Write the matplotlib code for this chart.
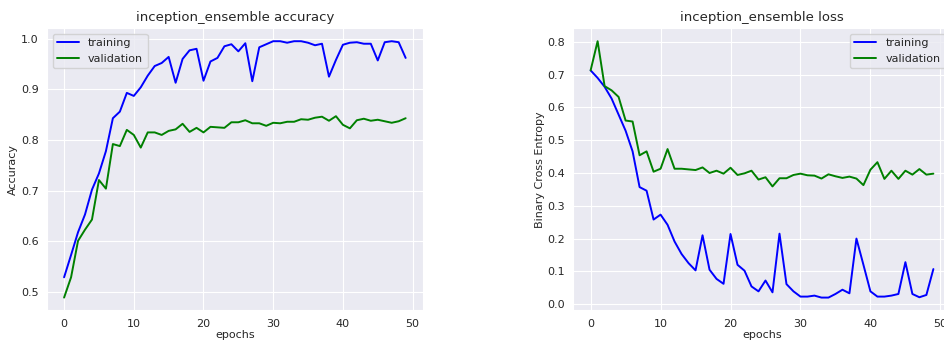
import numpy as np
import seaborn as sns
from matplotlib import pyplot as plt

sns.set_style('darkgrid')
plt.rcParams['font.family'] = ['DejaVu Sans']

# accuracy per epoch
train_acc = [0.529, 0.573, 0.618, 0.653, 0.702, 0.734, 0.778, 0.843, 0.856, 0.893,
             0.887, 0.904, 0.927, 0.946, 0.952, 0.964, 0.913, 0.960, 0.977, 0.980,
             0.917, 0.955, 0.962, 0.985, 0.989, 0.975, 0.991, 0.916, 0.983, 0.989,
             0.995, 0.995, 0.992, 0.995, 0.995, 0.992, 0.987, 0.990, 0.925, 0.958,
             0.988, 0.992, 0.993, 0.990, 0.990, 0.957, 0.993, 0.995, 0.993, 0.962]
val_acc = [0.489, 0.529, 0.601, 0.623, 0.643, 0.721, 0.704, 0.792, 0.788, 0.820,
           0.810, 0.785, 0.815, 0.815, 0.810, 0.818, 0.821, 0.832, 0.816, 0.824,
           0.815, 0.826, 0.825, 0.824, 0.835, 0.835, 0.839, 0.833, 0.833, 0.828,
           0.834, 0.833, 0.836, 0.836, 0.841, 0.840, 0.844, 0.846, 0.838, 0.847,
           0.830, 0.823, 0.839, 0.842, 0.838, 0.840, 0.837, 0.834, 0.837, 0.843]

# loss per epoch
train_loss = [0.713, 0.690, 0.663, 0.627, 0.578, 0.529, 0.466, 0.357, 0.346, 0.258,
              0.273, 0.242, 0.191, 0.153, 0.125, 0.103, 0.210, 0.105, 0.077, 0.062,
              0.214, 0.120, 0.102, 0.054, 0.039, 0.072, 0.036, 0.215, 0.061, 0.039,
              0.023, 0.023, 0.026, 0.020, 0.020, 0.031, 0.044, 0.033, 0.200, 0.120,
              0.039, 0.023, 0.023, 0.026, 0.031, 0.128, 0.031, 0.021, 0.028, 0.107]
val_loss = [0.713, 0.802, 0.665, 0.652, 0.632, 0.560, 0.557, 0.454, 0.466, 0.404,
            0.413, 0.473, 0.413, 0.413, 0.411, 0.409, 0.417, 0.400, 0.407, 0.398,
            0.416, 0.394, 0.399, 0.407, 0.380, 0.387, 0.359, 0.384, 0.384, 0.394,
            0.398, 0.393, 0.392, 0.383, 0.396, 0.390, 0.385, 0.389, 0.383, 0.363,
            0.410, 0.433, 0.382, 0.407, 0.382, 0.407, 0.395, 0.412, 0.395, 0.398]

epochs = np.arange(len(train_acc))

fig = plt.figure(figsize=(9.44, 3.42), dpi=100)
ax1 = fig.add_axes([0.0498, 0.0924, 0.398, 0.8246])
ax2 = fig.add_axes([0.6075, 0.0924, 0.3994, 0.8246])

# Accuracy plot
ax1.plot(epochs, train_acc, color='blue', lw=1.4, label='training')
ax1.plot(epochs, val_acc, color='green', lw=1.4, label='validation')
ax1.set_title('inception_ensemble accuracy', fontsize=9.5, pad=5)
ax1.set_xlabel('epochs', fontsize=8, labelpad=1)
ax1.set_ylabel('Accuracy', fontsize=8, labelpad=2)
ax1.legend(loc='upper left', fontsize=8)

# Loss plot
ax2.plot(epochs, train_loss, color='blue', lw=1.4, label='training')
ax2.plot(epochs, val_loss, color='green', lw=1.4, label='validation')
ax2.set_title('inception_ensemble loss', fontsize=9.5, pad=5)
ax2.set_xlabel('epochs', fontsize=8, labelpad=1)
ax2.set_ylabel('Binary Cross Entropy', fontsize=8, labelpad=2)
ax2.legend(loc='upper right', fontsize=8)

for ax in (ax1, ax2):
    ax.tick_params(labelsize=8, pad=2.5)
    ax.set_xticks([0, 10, 20, 30, 40, 50])

plt.savefig('out.png', dpi=100)
